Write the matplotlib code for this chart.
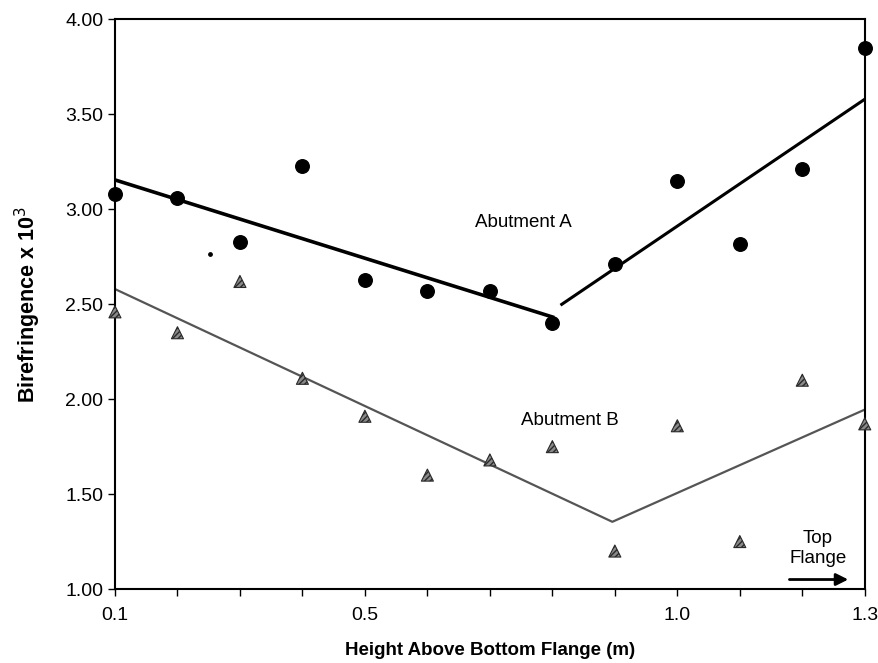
import numpy as np
import matplotlib
matplotlib.use('Agg')
import matplotlib.pyplot as plt

plt.rcParams['font.family'] = ['Liberation Sans', 'DejaVu Sans']

# データ
height = [0.1, 0.2, 0.3, 0.4, 0.5, 0.6, 0.7, 0.8, 0.9, 1.0, 1.1, 1.2, 1.3]
abut_a = [3.08, 3.06, 2.83, 3.23, 2.63, 2.57, 2.57, 2.40, 2.71, 3.15, 2.82, 3.21, 3.85]
abut_b = [2.46, 2.35, 2.62, 2.11, 1.91, 1.60, 1.68, 1.75, 1.20, 1.86, 1.25, 2.10, 1.87]

# 近似直線（区分）
fit_a1_x, fit_a1_y = [0.1, 0.803], [3.155, 2.43]
fit_a2_x, fit_a2_y = [0.813, 1.3], [2.495, 3.58]
fit_b_x, fit_b_y = [0.1, 0.896, 1.3], [2.58, 1.354, 1.945]

stray_x, stray_y = [0.252], [2.766]

xticks = [0.1, 0.5, 1.0, 1.3]
xtick_labels = ['0.1', '0.5', '1.0', '1.3']
yticks = [1.0, 1.5, 2.0, 2.5, 3.0, 3.5, 4.0]

fig = plt.figure(figsize=(8.79, 6.63), dpi=100)
ax = fig.add_axes([0.1308, 0.1116, 0.853, 0.859])

ax.plot(fit_a1_x, fit_a1_y, color='black', lw=2.6, solid_capstyle='butt')
ax.plot(fit_a2_x, fit_a2_y, color='black', lw=2.2, solid_capstyle='butt')
ax.plot(fit_b_x, fit_b_y, color='#555555', lw=1.6)

ax.scatter(height, abut_a, s=95, color='black', zorder=3, clip_on=False)
ax.scatter(height, abut_b, s=75, marker='^', color='#8a8a8a',
           edgecolors='#2a2a2a', linewidths=0.8, hatch='//////', zorder=3, clip_on=False)
ax.scatter(stray_x, stray_y, s=6, color='black', zorder=3)

ax.text(0.754, 2.93, 'Abutment A', fontsize=13.5, ha='center', va='center')
ax.text(0.828, 1.89, 'Abutment B', fontsize=13.5, ha='center', va='center')
ax.text(1.225, 1.265, 'Top', fontsize=13.5, ha='center', va='center')
ax.text(1.225, 1.16, 'Flange', fontsize=13.5, ha='center', va='center')
ax.annotate('', xy=(1.278, 1.05), xytext=(1.175, 1.05),
            arrowprops=dict(arrowstyle='-|>', color='black', lw=2, mutation_scale=18))

ax.set_xlim(0.1, 1.3)
ax.set_ylim(1.0, 4.0)
ax.set_xticks(np.arange(0.1, 1.31, 0.1))
ax.set_xticklabels([xtick_labels[xticks.index(round(t, 1))] if round(t, 1) in xticks else ''
                    for t in np.arange(0.1, 1.31, 0.1)])
ax.set_yticks(yticks)
ax.set_yticklabels(['%.2f' % v for v in yticks])
ax.tick_params(axis='both', labelsize=14, direction='out', length=5, width=1)
ax.tick_params(axis='x', pad=8)

for s in ax.spines.values():
    s.set_linewidth(1.5)

ax.set_xlabel('Height Above Bottom Flange (m)', fontsize=13.5, fontweight='bold', labelpad=13)
ax.set_ylabel('Birefringence x 10$^3$', fontsize=15.5, fontweight='bold', labelpad=16)

fig.savefig('out.png', dpi=100)
